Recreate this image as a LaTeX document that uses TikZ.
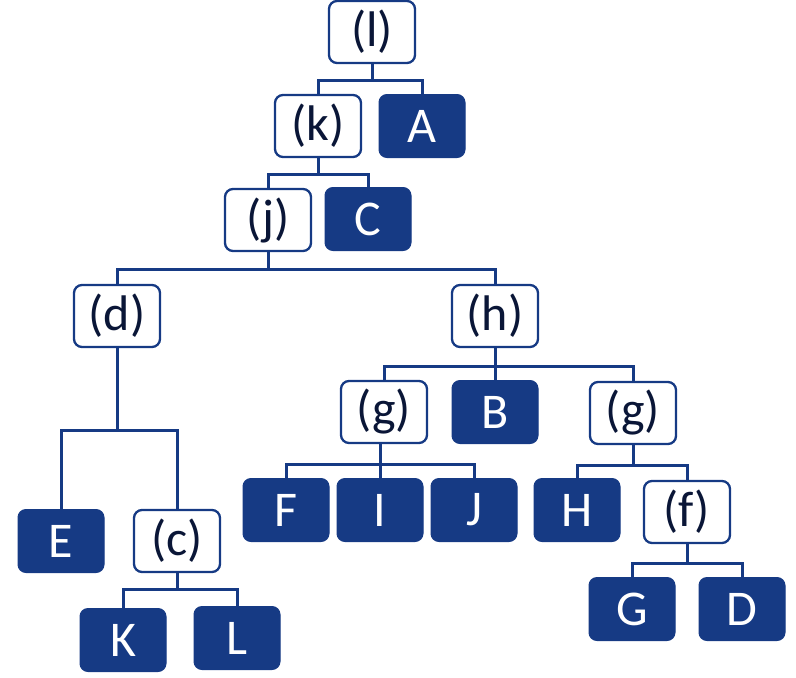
\documentclass[tikz,border=0pt]{standalone}
\usepackage{fontspec}
\setmainfont{Carlito}
\definecolor{navy}{RGB}{22,58,132}
\definecolor{ink}{RGB}{10,22,55}
\tikzset{
  inner/.style={draw=navy, line width=2.3pt, fill=white, rounded corners=8pt,
    minimum width=86pt, minimum height=62pt, inner sep=0pt, text=ink,
    font=\fontsize{50}{58}\selectfont},
  leaf/.style={draw=navy, line width=1pt, fill=navy, rounded corners=8pt,
    minimum width=86pt, minimum height=63pt, inner sep=0pt, text=white,
    font=\fontsize{50}{58}\selectfont},
  conn/.style={draw=navy, line width=3pt}
}
\begin{document}
\begin{tikzpicture}[x=1pt,y=-1pt]
\useasboundingbox (0,0) rectangle (796,678);
% nodes
\node[inner] (l)  at (372,32)  {(l)};
\node[inner] (k)  at (318,126) {(k)};
\node[leaf]  (A)  at (422,126) {A};
\node[inner] (j)  at (268,220) {(j)};
\node[leaf]  (C)  at (368,219) {C};
\node[inner] (d)  at (117,316) {(d)};
\node[inner] (h)  at (495,316) {(h)};
\node[leaf]  (E)  at (61,541)  {E};
\node[inner] (c)  at (177,541) {(c)};
\node[leaf]  (K)  at (123,640) {K};
\node[leaf]  (L)  at (237,638) {L};
\node[inner] (g1) at (384,412) {(g)};
\node[leaf]  (B)  at (495,412) {B};
\node[inner] (g2) at (633,413) {(g)};
\node[leaf]  (F)  at (286,510) {F};
\node[leaf]  (I)  at (380,510) {I};
\node[leaf]  (J)  at (474,510) {J};
\node[leaf]  (H)  at (577,510) {H};
\node[inner] (f)  at (687,512) {(f)};
\node[leaf]  (G)  at (632,609) {G};
\node[leaf]  (D)  at (742,609) {D};
% connectors
\draw[conn] (l.south) -- ++(0,16) -| (k.north);
\draw[conn] (l.south) ++(0,16) -| (A.north);
\draw[conn] (k.south) -- ++(0,16) -| (j.north);
\draw[conn] (k.south) ++(0,16) -| (C.north);
\draw[conn] (j.south) -- ++(0,17) -| (d.north);
\draw[conn] (j.south) ++(0,17) -| (h.north);
\draw[conn] (d.south) -- ++(0,82) -| (E.north);
\draw[conn] (d.south) ++(0,82) -| (c.north);
\draw[conn] (c.south) -- ++(0,16) -| (K.north);
\draw[conn] (c.south) ++(0,16) -| (L.north);
\draw[conn] (h.south) -- ++(0,18) -| (g1.north);
\draw[conn] (h.south) -- (B.north);
\draw[conn] (h.south) ++(0,18) -| (g2.north);
\draw[conn] (g1.south -| I.north) -- (I.north);
\draw[conn] (g1.south -| I.north) ++(0,20) -| (F.north);
\draw[conn] (g1.south -| I.north) ++(0,20) -| (J.north);
\draw[conn] (g2.south) -- ++(0,20) -| (H.north);
\draw[conn] (g2.south) ++(0,20) -| (f.north);
\draw[conn] (f.south) -- ++(0,19) -| (G.north);
\draw[conn] (f.south) ++(0,19) -| (D.north);
\end{tikzpicture}
\end{document}
